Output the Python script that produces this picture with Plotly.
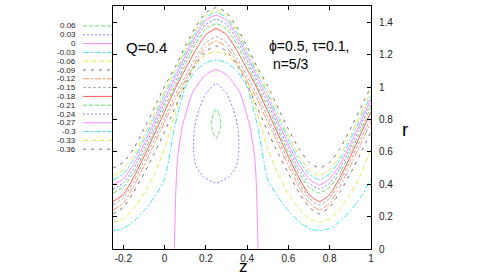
import plotly.graph_objects as go

# ---------------- data ----------------
levels = ["0.06", "0.03", "0", "-0.03", "-0.06", "-0.09", "-0.12", "-0.15",
          "-0.18", "-0.21", "-0.24", "-0.27", "-0.3", "-0.33", "-0.36"]

# shared z grid for the periodic (open) contours
z_grid = [-0.25, -0.2, -0.15, -0.1, -0.05, 0.0, 0.05, 0.1, 0.15, 0.2, 0.25,
          0.3, 0.35, 0.4, 0.45, 0.5, 0.55, 0.6, 0.65, 0.7, 0.75,
          0.8, 0.85, 0.9, 0.95, 1.0]

r_m036 = [0.50, 0.535, 0.62, 0.74, 0.87, 1.005, 1.12, 1.25, 1.37, 1.46, 1.49, 1.46, 1.37, 1.25, 1.12, 1.005, 0.87, 0.74, 0.62, 0.535, 0.50, 0.535, 0.62, 0.74, 0.87, 1.005]
r_m033 = [0.454, 0.49, 0.577, 0.70, 0.83, 0.975, 1.10, 1.23, 1.35, 1.444, 1.475, 1.444, 1.35, 1.23, 1.10, 0.975, 0.83, 0.70, 0.577, 0.49, 0.454, 0.49, 0.577, 0.70, 0.83, 0.975]
r_m030 = [0.427, 0.463, 0.551, 0.675, 0.81, 0.954, 1.078, 1.212, 1.336, 1.429, 1.46, 1.429, 1.336, 1.212, 1.078, 0.954, 0.81, 0.675, 0.551, 0.463, 0.427, 0.463, 0.551, 0.675, 0.81, 0.954]
r_m027 = [0.396, 0.433, 0.522, 0.647, 0.783, 0.93, 1.056, 1.192, 1.317, 1.412, 1.443, 1.412, 1.317, 1.192, 1.056, 0.93, 0.783, 0.647, 0.522, 0.433, 0.396, 0.433, 0.522, 0.647, 0.783, 0.93]
r_m024 = [0.37, 0.407, 0.496, 0.622, 0.758, 0.904, 1.03, 1.166, 1.292, 1.387, 1.418, 1.387, 1.292, 1.166, 1.03, 0.904, 0.758, 0.622, 0.496, 0.407, 0.37, 0.407, 0.496, 0.622, 0.758, 0.904]
r_m021 = [0.345, 0.382, 0.47, 0.596, 0.732, 0.878, 1.003, 1.139, 1.265, 1.359, 1.39, 1.359, 1.265, 1.139, 1.003, 0.878, 0.732, 0.596, 0.47, 0.382, 0.345, 0.382, 0.47, 0.596, 0.732, 0.878]
r_m018 = [0.293, 0.336, 0.442, 0.57, 0.709, 0.848, 0.987, 1.109, 1.227, 1.323, 1.36, 1.323, 1.227, 1.109, 0.987, 0.848, 0.709, 0.57, 0.442, 0.336, 0.293, 0.336, 0.442, 0.57, 0.709, 0.848]
r_m015 = [0.272, 0.314, 0.417, 0.542, 0.677, 0.812, 0.947, 1.066, 1.18, 1.274, 1.31, 1.274, 1.18, 1.066, 0.947, 0.812, 0.677, 0.542, 0.417, 0.314, 0.272, 0.314, 0.417, 0.542, 0.677, 0.812]
r_m012 = [0.241, 0.283, 0.387, 0.512, 0.648, 0.783, 0.919, 1.039, 1.154, 1.248, 1.284, 1.248, 1.154, 1.039, 0.919, 0.783, 0.648, 0.512, 0.387, 0.283, 0.241, 0.283, 0.387, 0.512, 0.648, 0.783]
r_m009 = [0.217, 0.258, 0.352, 0.466, 0.59, 0.725, 0.87, 1.015, 1.139, 1.222, 1.253, 1.222, 1.139, 1.015, 0.87, 0.725, 0.59, 0.466, 0.352, 0.258, 0.217, 0.258, 0.352, 0.466, 0.59, 0.725]
r_m006 = [0.165, 0.185, 0.25, 0.34, 0.46, 0.62, 0.83, 1.04, 1.14, 1.20, 1.216, 1.20, 1.14, 1.04, 0.83, 0.62, 0.46, 0.34, 0.25, 0.185, 0.165, 0.185, 0.25, 0.34, 0.46, 0.62]
r_m003 = [0.113, 0.127, 0.17, 0.235, 0.32, 0.43, 0.76, 1.0, 1.10, 1.15, 1.166, 1.15, 1.10, 1.0, 0.76, 0.43, 0.32, 0.235, 0.17, 0.127, 0.113, 0.127, 0.17, 0.235, 0.32, 0.43]

# level 0: arch reaching the axis r=0
z_000 = [0.047, 0.05, 0.054, 0.062, 0.086, 0.135, 0.192, 0.25, 0.308, 0.365, 0.413, 0.438, 0.446, 0.45, 0.453]
r_000 = [0.0, 0.138, 0.345, 0.551, 0.757, 0.964, 1.067, 1.108, 1.067, 0.964, 0.757, 0.551, 0.345, 0.138, 0.0]

# level 0.03: closed loop
z_p003 = [0.25, 0.298, 0.334, 0.354, 0.36, 0.358, 0.347, 0.314, 0.25, 0.186, 0.153, 0.142, 0.14, 0.146, 0.166, 0.202, 0.25]
r_p003 = [1.02, 0.964, 0.86, 0.757, 0.654, 0.58, 0.51, 0.448, 0.407, 0.448, 0.51, 0.58, 0.654, 0.757, 0.86, 0.964, 1.02]

# level 0.06: small closed lens
z_p006 = [0.25, 0.262, 0.271, 0.272, 0.268, 0.258, 0.25, 0.242, 0.232, 0.228, 0.229, 0.238, 0.25]
r_p006 = [0.865, 0.84, 0.80, 0.77, 0.73, 0.70, 0.681, 0.70, 0.73, 0.77, 0.80, 0.84, 0.865]

x_tickvals = [-0.2, 0, 0.2, 0.4, 0.6, 0.8, 1]
x_ticktext = ["-0.2", "0", "0.2", "0.4", "0.6", "0.8", "1"]
y_tickvals = [0, 0.2, 0.4, 0.6, 0.8, 1, 1.2, 1.4]
y_ticktext = ["0", "0.2", "0.4", "0.6", "0.8", "1", "1.2", "1.4"]

# ---------------- styles ----------------
FONT = "Liberation Sans, Arial, sans-serif"
GREEN, BLUE, MAG, CYAN, YEL = "#66dd66", "#8080ff", "#ff88ff", "#44e6e6", "#e8e84a"
GRAY1, ORANGE, GRAY2, RED = "#707070", "#ff9462", "#a8a8a8", "#ff5555"
style = {
    "0.06": (GREEN, "4px,2px"), "0.03": (BLUE, "2px,2px"), "0": (MAG, "solid"),
    "-0.03": (CYAN, "6px,2px,2px,2px"), "-0.06": (YEL, "5px,3px"),
    "-0.09": (GRAY1, "3px,5px"), "-0.12": (ORANGE, "6px,2px,2px,2px"),
    "-0.15": (GRAY2, "3px,2px"), "-0.18": (RED, "solid"),
    "-0.21": (GREEN, "4px,2px"), "-0.24": (BLUE, "2px,2px"), "-0.27": (MAG, "solid"),
    "-0.3": (CYAN, "6px,2px,2px,2px"), "-0.33": (YEL, "5px,3px"), "-0.36": (GRAY1, "3px,5px"),
}

curves = {
    "0.06": (z_p006, r_p006), "0.03": (z_p003, r_p003), "0": (z_000, r_000),
    "-0.03": (z_grid, r_m003), "-0.06": (z_grid, r_m006), "-0.09": (z_grid, r_m009),
    "-0.12": (z_grid, r_m012), "-0.15": (z_grid, r_m015), "-0.18": (z_grid, r_m018),
    "-0.21": (z_grid, r_m021), "-0.24": (z_grid, r_m024), "-0.27": (z_grid, r_m027),
    "-0.3": (z_grid, r_m030), "-0.33": (z_grid, r_m033), "-0.36": (z_grid, r_m036),
}

fig = go.Figure()
for lv in levels:
    zx, ry = curves[lv]
    col, dash = style[lv]
    fig.add_trace(go.Scatter(x=zx, y=ry, mode="lines", name=lv, showlegend=False,
                             hoverinfo="skip",
                             line=dict(color=col, width=1, dash=dash,
                                       shape="spline", smoothing=0.5)))

W, H = 485, 277
L, R, T, B = 113, 114, 6, 28
PW, PH = W - L - R, H - T - B

def px(xp):
    return (xp - L) / PW

def py(yp):
    return (H - B - yp) / PH

shapes, annots = [], []
for i, lv in enumerate(levels):
    yy = 26 + i * 8.8
    col, dash = style[lv]
    shapes.append(dict(type="line", xref="paper", yref="paper",
                       x0=px(83), x1=px(112), y0=py(yy), y1=py(yy),
                       line=dict(color=col, width=1, dash=dash)))
    annots.append(dict(xref="paper", yref="paper", x=px(77), y=py(yy), text=lv,
                       showarrow=False, xanchor="right", yanchor="middle",
                       borderpad=0, font=dict(family=FONT, size=8, color="#222222")))

annots += [
    dict(xref="paper", yref="paper", x=px(124), y=py(47), text="Q=0.4", showarrow=False,
         xanchor="left", yanchor="middle", font=dict(family=FONT, size=15, color="black")),
    dict(xref="paper", yref="paper", x=px(268), y=py(37), text="ϕ=0.5, τ=0.1,<br> n=5/3",
         showarrow=False, xanchor="left", yanchor="top", align="left", borderpad=0,
         font=dict(family=FONT, size=14, color="black")),
    dict(xref="paper", yref="paper", x=px(243), y=py(277), text="z", showarrow=False,
         xanchor="center", yanchor="bottom", borderpad=0,
         font=dict(family=FONT, size=17, color="black")),
    dict(xref="paper", yref="paper", x=px(405), y=py(129), text="r", showarrow=False,
         xanchor="center", yanchor="middle", font=dict(family=FONT, size=19, color="black")),
]

axis_common = dict(showgrid=False, zeroline=False, showline=True, linecolor="black",
                   linewidth=1, mirror="allticks", ticks="inside", ticklen=4,
                   tickcolor="black", tickwidth=1,
                   tickfont=dict(family=FONT, size=10, color="#222222"))

fig.update_layout(
    width=W, height=H, margin=dict(l=L, r=R, t=T, b=B),
    font=dict(family=FONT),
    paper_bgcolor="white", plot_bgcolor="white", showlegend=False,
    hovermode=False,
    xaxis=dict(range=[-0.25, 1.0], tickmode="array", tickvals=x_tickvals,
               ticktext=x_ticktext, **axis_common),
    yaxis=dict(range=[0, 1.5], side="right", tickmode="array", tickvals=y_tickvals,
               ticktext=y_ticktext, ticklabelstandoff=5, **axis_common),
    shapes=shapes, annotations=annots,
)

fig.write_html("out.html", config={"displayModeBar": False, "staticPlot": True},
               post_script="document.body.style.margin='0px';document.body.style.padding='0px';")
